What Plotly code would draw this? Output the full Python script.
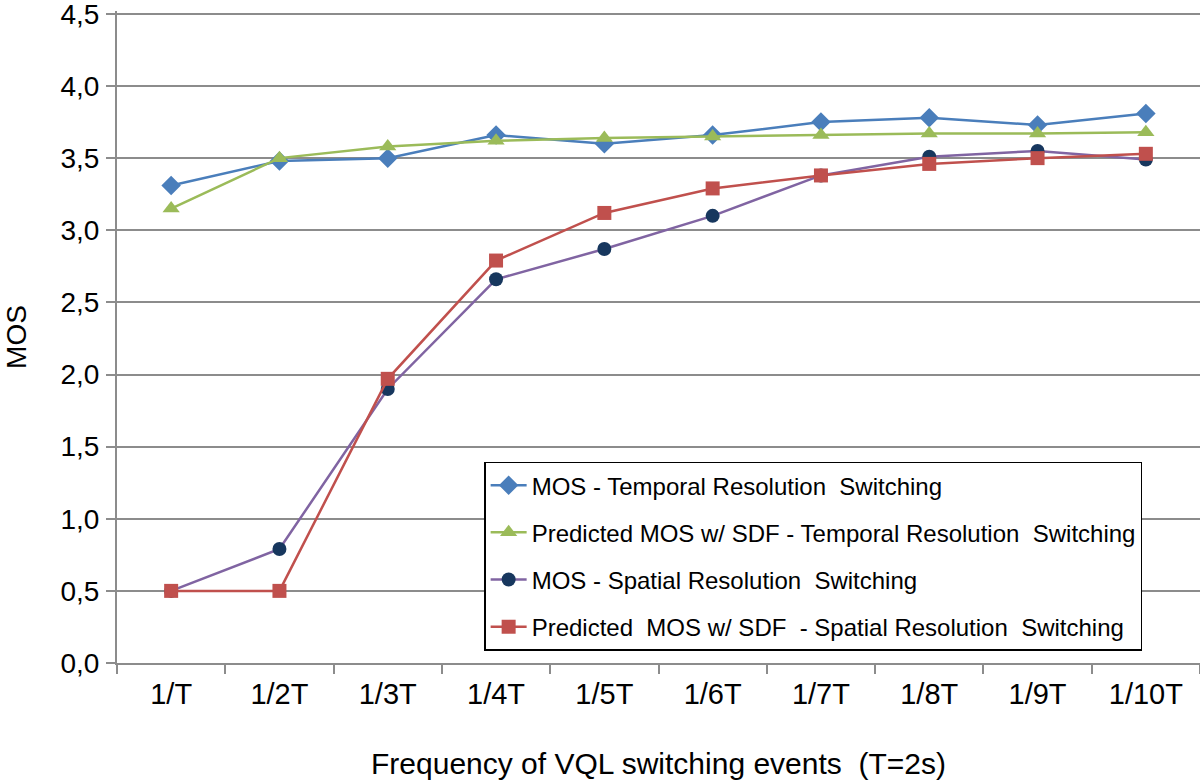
import plotly.graph_objects as go

categories = ["1/T", "1/2T", "1/3T", "1/4T", "1/5T", "1/6T", "1/7T", "1/8T", "1/9T", "1/10T"]
mos_temporal = [3.31, 3.48, 3.50, 3.66, 3.60, 3.66, 3.75, 3.78, 3.73, 3.81]
pred_temporal = [3.15, 3.50, 3.58, 3.62, 3.64, 3.65, 3.66, 3.67, 3.67, 3.68]
mos_spatial = [0.50, 0.79, 1.90, 2.66, 2.87, 3.10, 3.38, 3.51, 3.55, 3.49]
pred_spatial = [0.50, 0.50, 1.97, 2.79, 3.12, 3.29, 3.38, 3.46, 3.50, 3.53]
y_ticks = [0, 0.5, 1.0, 1.5, 2.0, 2.5, 3.0, 3.5, 4.0, 4.5]
y_tick_labels = ["0,0", "0,5", "1,0", "1,5", "2,0", "2,5", "3,0", "3,5", "4,0", "4,5"]

names = [
    "MOS - Temporal Resolution  Switching",
    "Predicted MOS w/ SDF - Temporal Resolution  Switching",
    "MOS - Spatial Resolution  Switching",
    "Predicted  MOS w/ SDF  - Spatial Resolution  Switching",
]

series = [
    (mos_temporal, "#4A7EBB", "#4A7EBB", "diamond", 15),
    (pred_temporal, "#9BBB59", "#9BBB59", "triangle-up", 15),
    (mos_spatial, "#8064A2", "#17375E", "circle", 14),
    (pred_spatial, "#C0504D", "#C0504D", "square", 14),
]

fig = go.Figure()
for i, (vals, lc, mc, sym, sz) in enumerate(series):
    fig.add_trace(go.Scatter(
        x=categories, y=vals, name=names[i], mode="lines+markers",
        line=dict(color=lc, width=2.5),
        marker=dict(color=mc, symbol=sym, size=sz, line=dict(width=0)),
        legendgroup=f"g{i}",
    ))

font_family = "Liberation Sans, Arial, sans-serif"

fig.update_layout(
    width=1200, height=781,
    margin=dict(l=117, r=0, t=11, b=118),
    paper_bgcolor="white", plot_bgcolor="white",
    font=dict(family=font_family, color="black", size=24),
    showlegend=True,
    legend=dict(
        x=0.339, y=0.309, xanchor="left", yanchor="top",
        bordercolor="black", borderwidth=1.5, bgcolor="white",
        font=dict(size=24, family=font_family, color="black"),
        tracegroupgap=13,
        itemwidth=36,
    ),
)

fig.update_xaxes(
    type="category", categoryorder="array", categoryarray=categories,
    range=[-0.5, 9.5], automargin=False,
    showline=True, linecolor="#8C8C8C", linewidth=2,
    ticks="outside", tickson="boundaries", ticklen=9, tickcolor="#8C8C8C", tickwidth=1.5,
    showgrid=False,
    tickfont=dict(size=29),
    ticklabelstandoff=4,
    title=dict(text="Frequency of VQL switching events  (T=2s)", font=dict(size=30), standoff=44),
)
fig.update_yaxes(
    range=[0, 4.52], tickvals=y_ticks, ticktext=y_tick_labels,
    ticklabeloverflow="allow", automargin=False,
    showline=True, linecolor="#8C8C8C", linewidth=2,
    ticks="outside", ticklen=9, tickcolor="#8C8C8C", tickwidth=1.5,
    showgrid=True, gridcolor="#8C8C8C", gridwidth=1.5,
    zeroline=False,
    tickfont=dict(size=28),
    ticklabelstandoff=1,
    title=dict(text="MOS", font=dict(size=28), standoff=26),
)

# remove the default 8px page margin so the figure fills the window exactly
fig.write_html(
    "out.html",
    config={"displayModeBar": False},
    post_script="document.body.style.margin='0px'; document.body.style.overflow='hidden';",
)
